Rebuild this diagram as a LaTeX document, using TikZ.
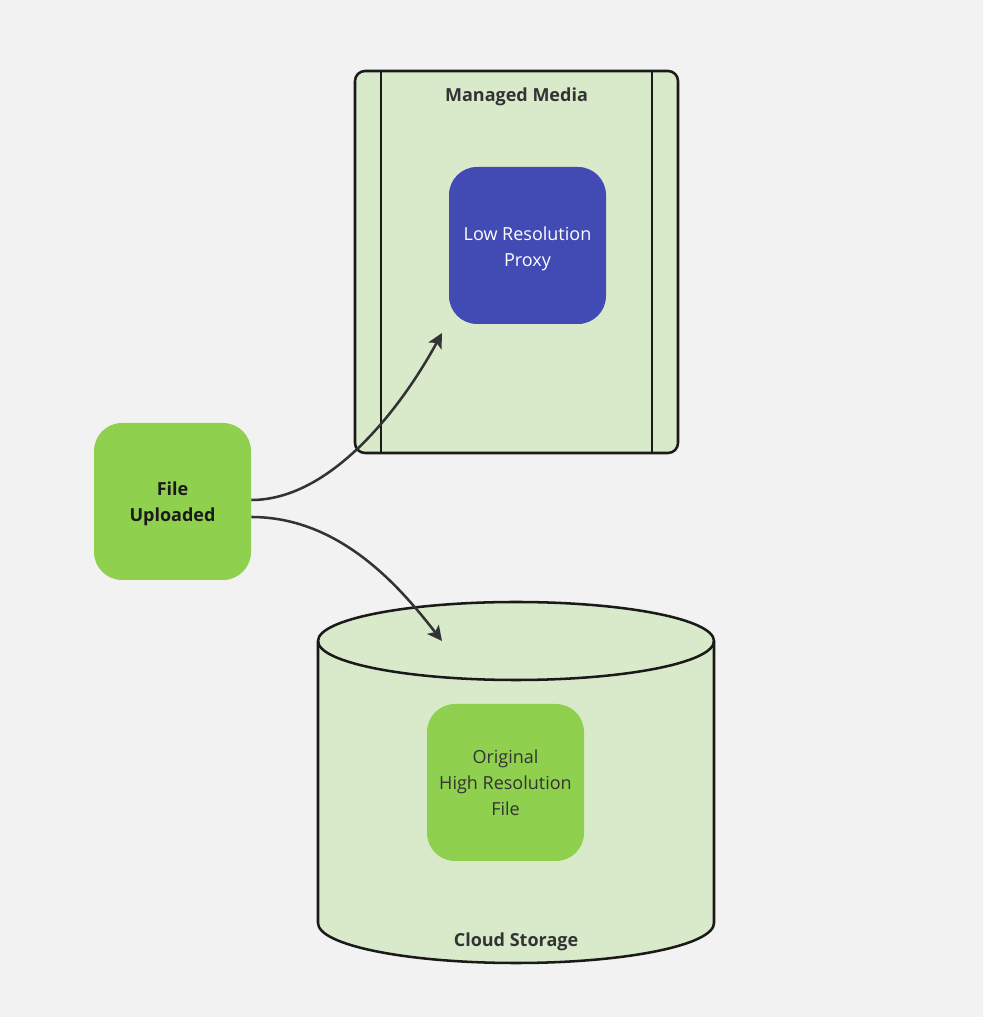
\documentclass[tikz,border=0pt]{standalone}
\usepackage{fontspec}
\setmainfont{Open Sans}
\usetikzlibrary{arrows.meta}
\definecolor{bgc}{HTML}{F2F2F2}
\definecolor{lgreen}{HTML}{D9EACB}
\definecolor{dgreen}{HTML}{8FD14F}
\definecolor{pblue}{HTML}{414BB3}
\definecolor{txtc}{HTML}{333333}
\definecolor{linec}{HTML}{1A1A1A}
\newcommand{\lowtext}[2]{\raisebox{-#1}[\height][\depth]{\begin{tabular}{@{}c@{}}#2\end{tabular}}}
\tikzset{
  card/.style={rounded corners=21pt, minimum width=117.75pt, minimum height=117.75pt, inner sep=0pt, font=\fontsize{13.5pt}{19.5pt}\selectfont},
  title/.style={font=\fontsize{13.5pt}{19.5pt}\selectfont\bfseries, text=txtc},
  frame/.style={draw=linec, line width=1.9pt, fill=lgreen},
  conn/.style={draw=txtc, line width=1.9pt, -{Stealth[length=11pt,width=11pt,inset=2.5pt]}}
}
\begin{document}
\begin{tikzpicture}[x=0.75pt,y=0.75pt]
\fill[bgc] (0,0) rectangle (983,1017);
\useasboundingbox (0,0) rectangle (983,1017);
% Managed Media container
\draw[frame, rounded corners=7.5pt] (355,564) rectangle (678,946);
\draw[linec, line width=1.9pt] (381,564) -- (381,946);
\draw[linec, line width=1.9pt] (652,564) -- (652,946);
\node[title] (mmtitle) at (516.5,920) {Managed Media};
\node[card, fill=pblue, text=white] (proxy) at (527.5,771.5) {\lowtext{2.25pt}{Low Resolution\\Proxy}};
% Cloud storage cylinder
\draw[frame] (318,376) -- (318,94) arc (180:360:198 and 40) -- (714,376) arc (0:180:198 and 39) -- cycle;
\draw[linec, line width=1.9pt] (318,376) arc (180:360:198 and 39);
\node[title] (cstitle) at (516,75.5) {Cloud Storage};
\node[card, fill=dgreen, text=txtc] (orig) at (505.5,234.5) {\lowtext{1.5pt}{Original\\High Resolution\\File}};
% File uploaded
\node[card, fill=dgreen, text=linec, font=\fontsize{13.5pt}{19.5pt}\selectfont\bfseries] (upl) at (172.5,515.5) {\lowtext{1.5pt}{File\\Uploaded}};
% connector ends
\coordinate (e1) at (442,684);
\coordinate (e2) at (442,376);
\draw[conn] (upl.east |- 0,517) .. controls (330,517) and (400,607) .. (e1);
\draw[conn] (upl.east |- 0,500) .. controls (340,500) and (400,430) .. (e2);
\end{tikzpicture}
\end{document}
